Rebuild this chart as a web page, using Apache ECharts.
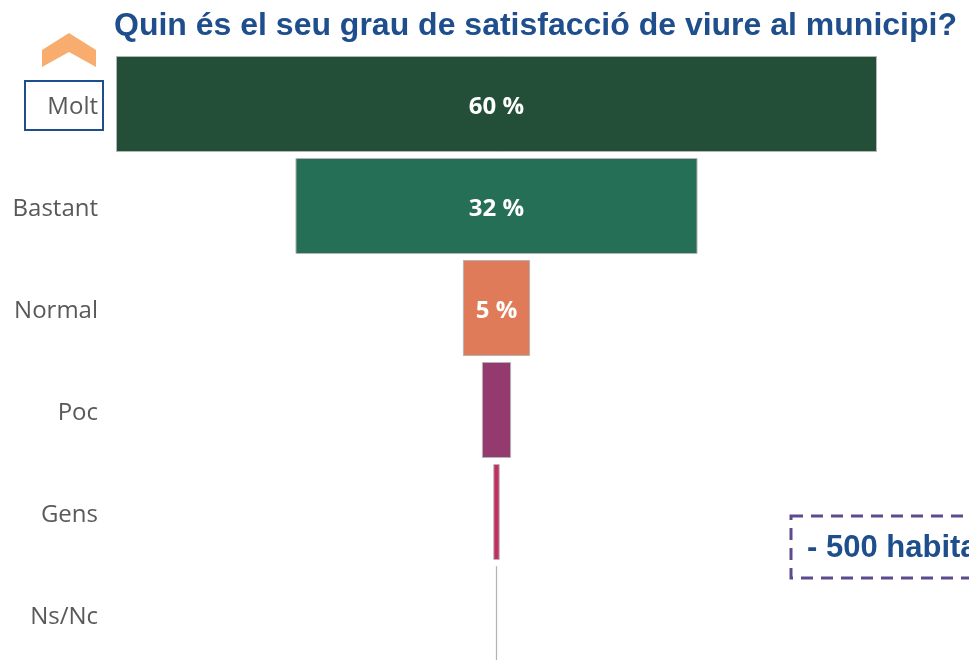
<!DOCTYPE html>
<html>
<head>
<meta charset="utf-8">
<script src="https://cdn.jsdelivr.net/npm/echarts@6/dist/echarts.min.js"></script>
<style>
  html, body { margin: 0; padding: 0; background: #fff; }
  #chart { width: 969px; height: 660px; }
</style>
</head>
<body>
<div id="chart"></div>
<script>
  // data
  const categories = ['Molt', 'Bastant', 'Normal', 'Poc', 'Gens', 'Ns/Nc'];
  const shares = [60, 31.7, 5.3, 2.3, 0.5, 0.1];
  const barColors = ['#234f39', '#246f55', '#e07b59', '#943a6f', '#c12f61', '#a6a6a6'];
  const titleText = 'Quin és el seu grau de satisfacció de viure al municipi?';
  const noteText = '- 500 habitants';

  const maxShare = Math.max(...shares);
  // transparent spacer so each bar sits centred like a funnel
  const spacer = shares.map(v => (maxShare - v) / 2);

  const chart = echarts.init(document.getElementById('chart'));

  chart.setOption({
    animation: false,
    title: {
      text: titleText,
      left: 109,
      top: 5,
      textStyle: {
        fontFamily: 'Liberation Sans',
        fontWeight: 'bold',
        fontSize: 32,
        color: '#1f4e8c'
      }
    },
    // last band runs past the bottom edge, as in the picture
    grid: { left: 116, right: 92, top: 53, height: 612, outerBoundsMode: 'none' },
    xAxis: {
      type: 'value',
      min: 0,
      max: maxShare,
      show: false
    },
    yAxis: {
      type: 'category',
      data: categories,
      inverse: true,
      axisLine: { show: false },
      axisTick: { show: false },
      axisLabel: {
        margin: 18,
        formatter: v => '{t|' + v + '}',
        rich: {
          t: {
            fontFamily: 'Open Sans',
            fontSize: 24,
            color: '#595959',
            padding: [6, 0, 0, 0]
          }
        }
      }
    },
    series: [
      {
        type: 'bar',
        stack: 'funnel',
        barWidth: 96,
        silent: true,
        itemStyle: { color: 'transparent' },
        data: spacer
      },
      {
        type: 'bar',
        stack: 'funnel',
        barWidth: 96,
        data: shares.map((v, i) => ({
          value: v,
          itemStyle: { color: barColors[i] }
        })),
        itemStyle: { borderColor: '#b4b4b4', borderWidth: 1 },
        label: {
          show: true,
          position: 'inside',
          offset: [0, 3],
          fontFamily: 'Open Sans',
          fontWeight: 'bold',
          fontSize: 24,
          color: '#ffffff',
          formatter: p => (p.value >= 5 ? Math.round(p.value) + ' %' : '')
        }
      }
    ],
    graphic: [
      {
        // orange chevron
        type: 'polygon',
        shape: { points: [[42, 50], [69, 33], [96, 50], [96, 67], [69, 52], [42, 67]] },
        style: { fill: '#f8ad6e' }
      },
      {
        // box around "Molt"
        type: 'rect',
        shape: { x: 25, y: 81, width: 78, height: 49 },
        style: { fill: 'none', stroke: '#1f4e8c', lineWidth: 2 }
      },
      {
        type: 'rect',
        shape: { x: 791, y: 516, width: 220, height: 62 },
        style: { fill: '#ffffff', stroke: '#5e4a8e', lineWidth: 3, lineDash: [12, 8] }
      },
      {
        type: 'text',
        left: 807,
        top: 533,
        style: {
          text: noteText,
          fontFamily: 'Liberation Sans',
          fontWeight: 'bold',
          fontSize: 31,
          fill: '#1f4e8c'
        }
      }
    ]
  });
</script>
</body>
</html>
